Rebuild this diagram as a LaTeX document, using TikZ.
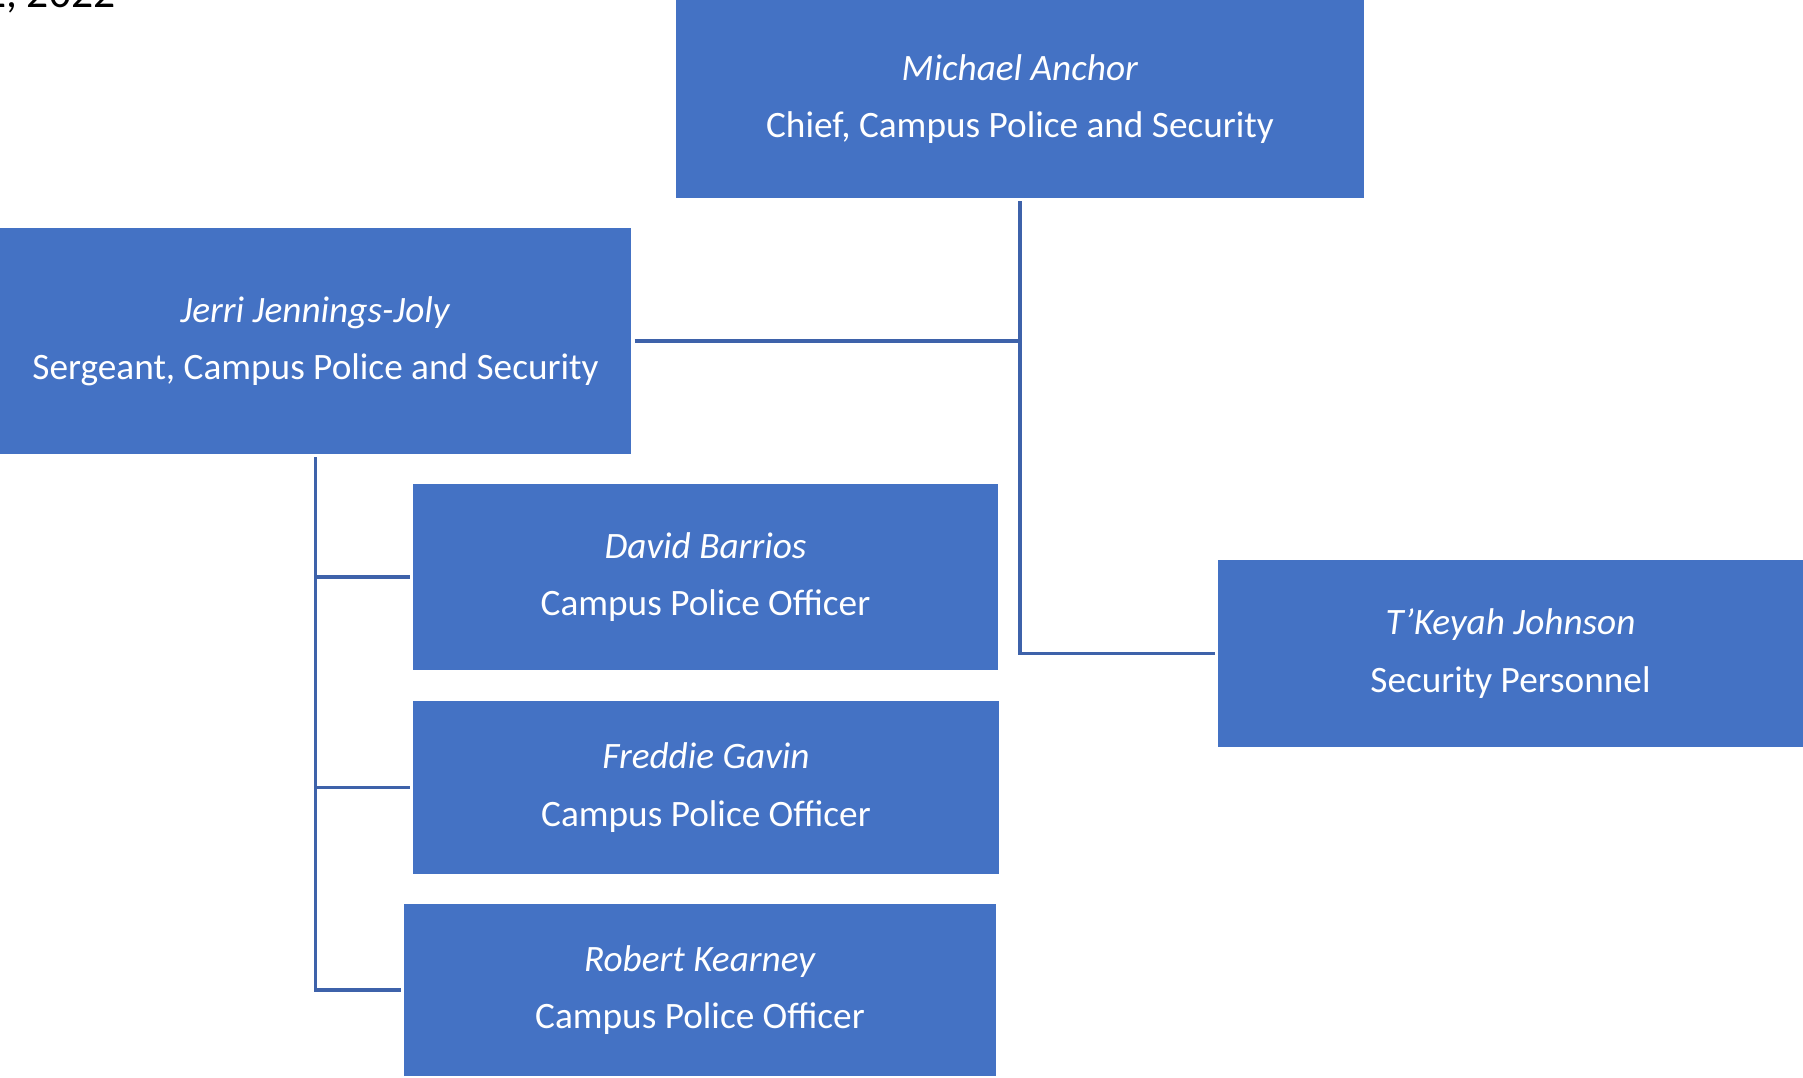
\documentclass[tikz,border=0pt]{standalone}
\usepackage{fontspec}
\setmainfont{Carlito}
\usepackage{tikz}
\usetikzlibrary{calc,positioning}
\definecolor{boxblue}{HTML}{4472C4}
\definecolor{lineblue}{RGB}{62,98,170}

\begin{document}
\begin{tikzpicture}[scale=1, every node/.append style={transform shape}]
      \tikzstyle{pbox} = [fill=boxblue, text=white, rectangle, align=center, inner sep=0pt, outer sep=0.035cm,
        font=\fontsize{10.6}{16.3}\selectfont]
      \tikzstyle{link} = [draw=lineblue, line width=1pt]

      \useasboundingbox (0,0) rectangle (18.03,10.78);

      % date left over from the page above
      \node[anchor=base east, inner sep=0pt, font=\fontsize{12.4}{14}\selectfont] (date) at (1.16, 10.70) {2, 2022};

      \node[pbox, minimum width=6.88cm, minimum height=1.98cm] (chief) at (10.20, 9.79)
        {\textit{Michael Anchor}\\Chief, Campus Police and Security};
      \node[pbox, minimum width=6.31cm, minimum height=2.26cm] (sergeant) at (3.155, 7.37)
        {\textit{Jerri Jennings-Joly}\\Sergeant, Campus Police and Security};
      \node[pbox, minimum width=5.85cm, minimum height=1.86cm] (barrios) at (7.055, 5.01)
        {\textit{David Barrios}\\Campus Police Officer};
      \node[pbox, minimum width=5.86cm, minimum height=1.73cm] (gavin) at (7.06, 2.905)
        {\textit{Freddie Gavin}\\Campus Police Officer};
      \node[pbox, minimum width=5.92cm, minimum height=1.72cm] (kearney) at (7.00, 0.88)
        {\textit{Robert Kearney}\\Campus Police Officer};
      \node[pbox, minimum width=5.85cm, minimum height=1.87cm] (johnson) at (15.105, 4.245)
        {\textit{T’Keyah Johnson}\\Security Personnel};

      \draw[link] (chief.south) |- (johnson.west);
      \draw[link] (sergeant.east) -- (sergeant.east -| chief.south);

      \draw[link] (sergeant.south) |- (kearney.west);
      \draw[link] (sergeant.south |- barrios.west) -- (barrios.west);
      \draw[link] (sergeant.south |- gavin.west) -- (gavin.west);
    \end{tikzpicture}
\end{document}
